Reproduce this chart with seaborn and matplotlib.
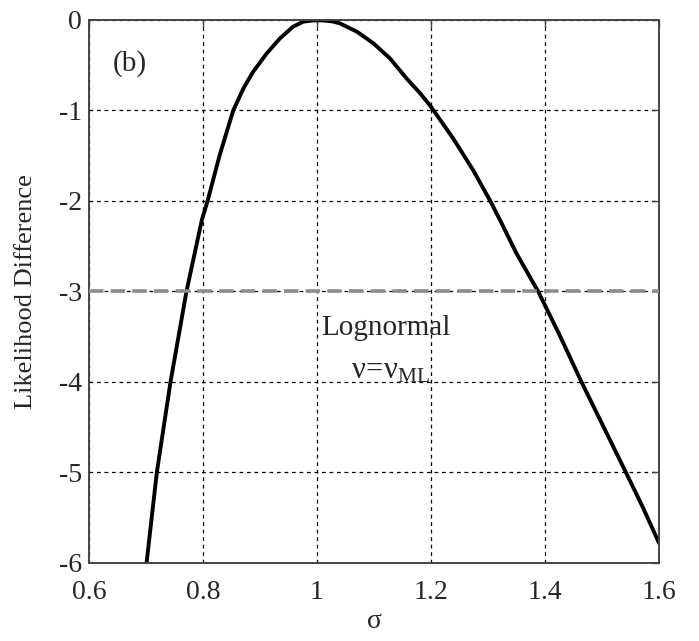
import numpy as np
import pandas as pd
import matplotlib
matplotlib.use('Agg')
import matplotlib.pyplot as plt
import seaborn as sns

# --- du lieu doc tu hinh ---
sigma = [0.701, 0.719, 0.731, 0.743, 0.757, 0.771, 0.798, 0.808, 0.829, 0.853,
         0.871, 0.888, 0.912, 0.935, 0.958, 0.976, 0.994, 1.012, 1.029, 1.040,
         1.052, 1.070, 1.099, 1.128, 1.157, 1.181, 1.199, 1.239, 1.274, 1.304,
         1.321, 1.350, 1.388, 1.427, 1.464, 1.503, 1.542, 1.572, 1.600]
lik_diff = [-6.00, -5.00, -4.50, -4.00, -3.50, -3.00, -2.21, -2.00, -1.50, -1.00,
            -0.755, -0.571, -0.368, -0.203, -0.074, -0.018, -0.004, -0.005, -0.018, -0.037,
            -0.074, -0.129, -0.258, -0.424, -0.645, -0.810, -0.950, -1.310, -1.660, -2.000,
            -2.210, -2.580, -3.000, -3.500, -4.000, -4.500, -5.000, -5.390, -5.780]
threshold = -3.0
xticks = [0.6, 0.8, 1.0, 1.2, 1.4, 1.6]
xticklabels = ['0.6', '0.8', '1', '1.2', '1.4', '1.6']
yticks = [-6, -5, -4, -3, -2, -1, 0]

df = pd.DataFrame({'sigma': sigma, 'diff': lik_diff})

sns.set_style('white')
plt.rcParams['font.family'] = ['Liberation Serif', 'DejaVu Serif']
plt.rcParams['mathtext.fontset'] = 'custom'
plt.rcParams['mathtext.rm'] = 'Liberation Serif'
plt.rcParams['mathtext.it'] = 'Liberation Serif'

fig = plt.figure(figsize=(6.99, 6.41), dpi=100)
ax = fig.add_axes([0.1273, 0.1217, 0.8155, 0.8471])

sns.lineplot(data=df, x='sigma', y='diff', color='black', lw=2.8, ax=ax, sort=False)
ax.axhline(threshold, color='#8c8c8c', lw=2.6, ls=(0, (4, 2)), zorder=3)

ax.set_xlim(0.6, 1.6); ax.set_ylim(-6, 0)
ax.set_xticks(xticks); ax.set_xticklabels(xticklabels)
ax.set_yticks(yticks); ax.set_yticklabels([str(t) for t in yticks])
ax.grid(True, color='black', ls=(0, (3, 3)), lw=0.9)
ax.tick_params(direction='in', length=5, width=1, color='#444444', labelsize=20,
               top=True, right=True)
ax.tick_params(axis='x', pad=12)
ax.tick_params(axis='y', pad=5)
for s in ax.spines.values():
    s.set_color('#444444'); s.set_linewidth(1.4)

ax.set_xlabel('σ', fontsize=20, labelpad=3)
ax.set_ylabel('Likelihood Difference', fontsize=19, labelpad=16)

ax.text(0.672, -0.48, '(b)', fontsize=21, ha='center', va='center')
ax.text(1.12, -3.40, 'Lognormal', fontsize=21, ha='center', va='center')
ax.text(1.13, -3.88, r'$\mathrm{\nu\!=\!\nu_{ML}}$', fontsize=22, ha='center', va='center')

fig.savefig('out.png', dpi=100)
